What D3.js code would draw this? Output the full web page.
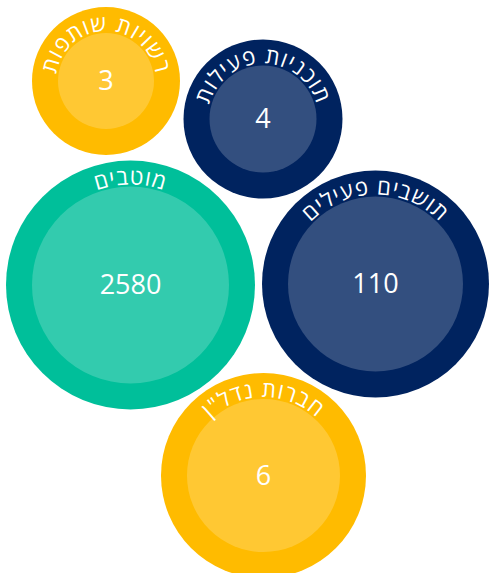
<!DOCTYPE html>
<html lang="he">
<head>
    <meta charset="UTF-8">
    <title>Bubbles</title>
    <script src="https://d3js.org/d3.v7.min.js"></script>
    <style>
        body { margin: 0; background: #fff; }
        svg { display: block; }
        .label { fill: #fff; font-family: "Open Sans", "DejaVu Sans", sans-serif; font-size: 22px; letter-spacing: 1px; }
        .value { fill: #fff; font-family: "Open Sans", sans-serif; font-size: 27px; font-weight: 400; }
    </style>
</head>
<body>
    <svg width="490" height="573"></svg>
    <script>
        // data
        var names = ["רשויות שותפות", "תוכניות פעילות", "מוטבים", "תושבים פעילים", "חברות נדל\"ן"];
        var values = [3, 4, 2580, 110, 6];
        var groups = ["yellow", "navy", "green", "navy", "yellow"];

        // where each bubble sits (layout, not data)
        var centers = [[106, 81], [263, 119], [130.5, 285], [375.5, 284], [263.5, 475.5]];

        var color = d3.scaleOrdinal()
            .domain(["yellow", "navy", "green"])
            .range(["#ffbb00", "#00235f", "#00bf9a"]);

        var r = d3.scaleLog()
            .domain([3, 4, 6, 110, 2580])
            .range([74, 79.5, 102.5, 113.5, 124.5]);

        var ring = 26;

        var svg = d3.select("svg");

        var nodes = values.map(function(v, i) {
            return { name: names[i], value: v, group: groups[i], x: centers[i][0], y: centers[i][1], i: i };
        });

        var g = svg.selectAll(".bubble")
            .data(nodes)
            .enter().append("g")
            .attr("class", "bubble")
            .attr("transform", function(d) { return "translate(" + d.x + "," + d.y + ")"; });

        g.append("circle")
            .attr("r", function(d) { return r(d.value); })
            .attr("fill", function(d) { return color(d.group); });

        g.append("circle")
            .attr("r", function(d) { return r(d.value) - ring; })
            .attr("fill", "#fff")
            .attr("fill-opacity", 0.2);

        // full circle starting at the bottom, so the label can be centred on top
        g.append("path")
            .attr("id", function(d) { return "arc" + d.i; })
            .attr("fill", "none")
            .attr("d", function(d) {
                var rt = r(d.value) - ring + 2;
                return "M0," + rt + "A" + rt + "," + rt + " 0 1 1 0," + (-rt) +
                       "A" + rt + "," + rt + " 0 1 1 0," + rt;
            });

        g.append("text")
            .attr("class", "label")
            .append("textPath")
            .attr("href", function(d) { return "#arc" + d.i; })
            .attr("startOffset", "50%")
            .attr("text-anchor", "middle")
            .text(function(d) { return d.name; });

        g.append("text")
            .attr("class", "value")
            .attr("text-anchor", "middle")
            .attr("dy", "0.35em")
            .text(function(d) { return d.value; });
    </script>
</body>
</html>
